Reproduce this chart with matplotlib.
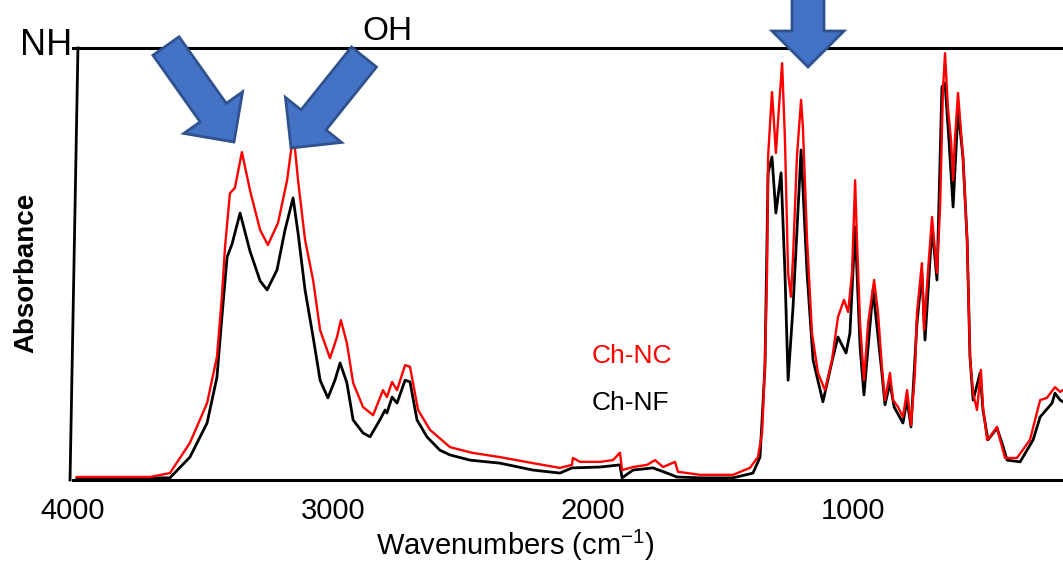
import matplotlib
matplotlib.use("Agg")
import matplotlib.pyplot as plt
import matplotlib.transforms as mtransforms
from matplotlib.patches import FancyArrow
from matplotlib.lines import Line2D

plt.rcParams['font.family'] = ['Liberation Sans', 'DejaVu Sans']
plt.rcParams['mathtext.fontset'] = 'custom'
plt.rcParams['mathtext.rm'] = 'Liberation Sans'

# FTIR spectra, wavenumber (cm-1) vs absorbance (normalised)
nc_wn = [3985, 3704, 3627, 3550, 3484, 3446, 3427, 3415, 3396, 3377, 3350, 3319,
         3280, 3250, 3211, 3176, 3157, 3149, 3134, 3107, 3076, 3049, 3011, 2984,
         2969, 2946, 2922, 2884, 2845, 2807, 2792, 2772, 2753, 2722, 2703, 2672,
         2626, 2549, 2464, 2357, 2230, 2126, 2080, 2076, 2049, 1972, 1922, 1895,
         1887, 1845, 1791, 1760, 1729, 1683, 1672, 1587, 1460, 1395, 1364, 1348,
         1337, 1329, 1325, 1310, 1306, 1295, 1283, 1271, 1260, 1248, 1237, 1229,
         1214, 1198, 1191, 1175, 1156, 1133, 1106, 1079, 1056, 1033, 1017, 1002,
         990, 983, 971, 956, 940, 917, 902, 887, 875, 856, 844, 825, 806, 790,
         775, 760, 752, 733, 725, 710, 694, 675, 663, 652, 644, 633, 621, 613,
         606, 594, 575, 559, 548, 536, 521, 506, 498, 482, 471, 444, 432, 413,
         367, 317, 278, 252, 221, 201, 190]
nc_abs = [0.007, 0.007, 0.016, 0.086, 0.178, 0.285, 0.424, 0.539, 0.664, 0.676, 0.759, 0.671,
          0.579, 0.544, 0.595, 0.694, 0.780, 0.787, 0.694, 0.556, 0.463, 0.347, 0.282, 0.331,
          0.370, 0.317, 0.225, 0.169, 0.150, 0.208, 0.192, 0.227, 0.208, 0.266, 0.262, 0.162,
          0.116, 0.076, 0.063, 0.053, 0.039, 0.028, 0.035, 0.051, 0.042, 0.042, 0.046, 0.063,
          0.023, 0.030, 0.035, 0.046, 0.030, 0.042, 0.019, 0.012, 0.012, 0.028, 0.053, 0.109,
          0.270, 0.479, 0.748, 0.898, 0.863, 0.757, 0.863, 0.965, 0.787, 0.479, 0.424, 0.516,
          0.748, 0.880, 0.817, 0.556, 0.340, 0.248, 0.208, 0.278, 0.377, 0.417, 0.389, 0.479,
          0.694, 0.556, 0.363, 0.231, 0.363, 0.463, 0.387, 0.262, 0.185, 0.248, 0.185, 0.169, 0.146, 0.208,
          0.127, 0.248, 0.387, 0.502, 0.347, 0.479, 0.609, 0.479, 0.632, 0.903, 0.988, 0.863, 0.787, 0.694,
          0.787, 0.896, 0.748, 0.556, 0.285, 0.201, 0.162, 0.255, 0.169, 0.093, 0.100, 0.123, 0.093, 0.051,
          0.051, 0.093, 0.185, 0.190, 0.215, 0.204, 0.208]

nf_wn = [3985, 3704, 3627, 3550, 3484, 3446, 3427, 3407, 3388, 3357, 3319, 3280,
         3253, 3215, 3184, 3153, 3134, 3107, 3076, 3049, 3019, 2992, 2972, 2946,
         2922, 2884, 2857, 2819, 2799, 2792, 2772, 2753, 2722, 2703, 2676, 2638,
         2588, 2549, 2472, 2357, 2230, 2126, 2080, 1972, 1895, 1887, 1845, 1768,
         1714, 1676, 1587, 1460, 1383, 1356, 1337, 1325, 1310, 1295, 1275, 1260,
         1248, 1229, 1198, 1175, 1152, 1114, 1075, 1056, 1025, 1010, 990, 971,
         956, 921, 887, 875, 856, 840, 806, 790, 775, 752, 733, 721, 694, 675,
         656, 644, 629, 613, 594, 575, 559, 548, 536, 509, 498, 479, 444, 425,
         405, 355, 305, 278, 232, 221, 201, 190]
nf_abs = [0.005, 0.005, 0.005, 0.053, 0.132, 0.238, 0.377, 0.516, 0.546, 0.618, 0.530, 0.461,
          0.440, 0.486, 0.579, 0.653, 0.572, 0.440, 0.331, 0.231, 0.190, 0.231, 0.271, 0.225,
          0.139, 0.109, 0.100, 0.139, 0.162, 0.155, 0.192, 0.178, 0.231, 0.227, 0.139, 0.100,
          0.069, 0.058, 0.046, 0.039, 0.023, 0.016, 0.028, 0.030, 0.035, 0.005, 0.023, 0.028,
          0.016, 0.007, 0.005, 0.005, 0.016, 0.053, 0.262, 0.711, 0.748, 0.618, 0.711, 0.479,
          0.231, 0.400, 0.764, 0.479, 0.278, 0.181, 0.285, 0.331, 0.294, 0.340, 0.586, 0.308,
          0.197, 0.440, 0.248, 0.174, 0.225, 0.169, 0.132, 0.185, 0.123, 0.363, 0.479, 0.324, 0.586, 0.463,
          0.910, 0.919, 0.787, 0.632, 0.856, 0.748, 0.556, 0.285, 0.185, 0.248, 0.162, 0.093, 0.120, 0.086,
          0.046, 0.042, 0.093, 0.146, 0.178, 0.201, 0.185, 0.181]

x_ticks = [4000, 3000, 2000, 1000]

W, H = 1063, 563
fig = plt.figure(figsize=(W / 100, H / 100), dpi=100)
ax = fig.add_axes([73 / W, (H - 480) / H, (W - 73) / W, 432 / H])

ax.plot(nf_wn, nf_abs, color='black', lw=2.0, zorder=2)
ax.plot(nc_wn, nc_abs, color='#ff0000', lw=1.7, zorder=3)

ax.set_xlim(4000, 190)
ax.set_ylim(0, 1)
ax.set_xticks(x_ticks)
ax.set_xticklabels([str(t) for t in x_ticks])
ax.set_yticks([])
ax.tick_params(axis='x', length=0, pad=12, labelsize=21)

for s in ['right', 'left']:
    ax.spines[s].set_visible(False)
for s in ['top', 'bottom']:
    ax.spines[s].set_linewidth(2.2)
# slightly leaning left edge of the frame
ax.add_line(Line2D([-0.003, 0.005], [0, 1], transform=ax.transAxes,
                   color='black', lw=2.0, clip_on=False))

ax.set_xlabel(r'Wavenumbers (cm$^{\mathrm{-1}}$)', fontsize=21)
ax.xaxis.set_label_coords(0.447, -0.11)
ax.set_ylabel('Absorbance', fontsize=20, fontweight='bold')
ax.yaxis.set_label_coords(-0.034, 0.48)

ax.text(0.524, 0.27, 'Ch-NC', color='#ff0000', fontsize=19, transform=ax.transAxes)
ax.text(0.524, 0.163, 'Ch-NF', color='black', fontsize=19, transform=ax.transAxes)

# pixel coordinates, origin at top-left
px = mtransforms.Affine2D().scale(1, -1).translate(0, H)
fig.text(20, 55, 'NH', fontsize=26, transform=px, ha='left', va='baseline')
fig.text(362, 40, 'OH', fontsize=24, transform=px, ha='left', va='baseline')

arrows = [((166, 46), (68, 96)), ((364, 57), (-73, 91)), ((808, -12), (0, 79))]
for (x0, y0), (dx, dy) in arrows:
    a = FancyArrow(x0, y0, dx, dy, width=32, head_width=72, head_length=36,
                   length_includes_head=True, transform=px,
                   facecolor='#4472C4', edgecolor='#2F528F', lw=2, zorder=10)
    fig.add_artist(a)

fig.savefig('out.png', dpi=100)
